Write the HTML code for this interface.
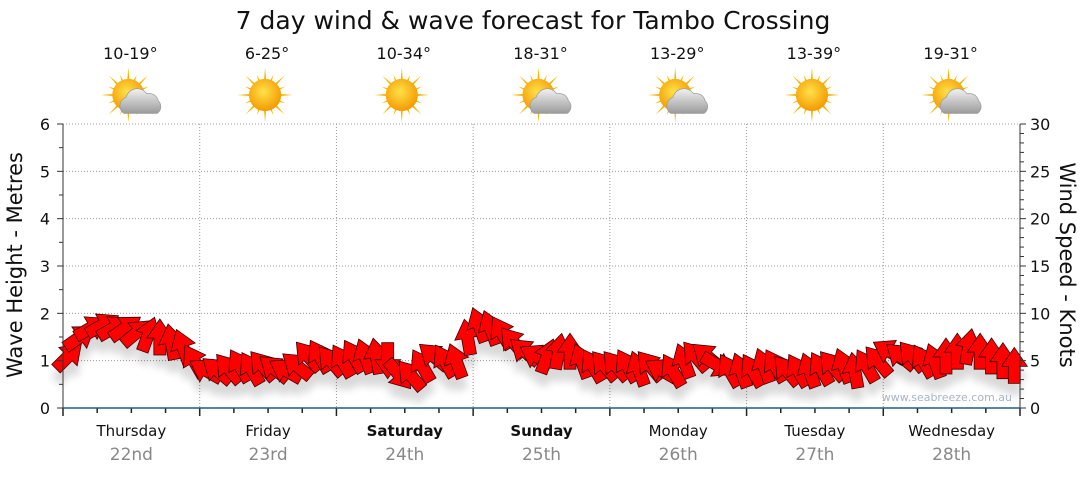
<!DOCTYPE html>
<html><head><meta charset="utf-8"><style>
body{margin:0;background:#fff;font-family:"Liberation Sans",sans-serif}
svg text{font-family:"DejaVu Sans","Liberation Sans",sans-serif}
</style></head><body>
<svg id="c" width="1080" height="475" viewBox="0 0 1080 475">
<defs>
<radialGradient id="sunG" cx="45%" cy="40%" r="60%"><stop offset="0" stop-color="#ffe14a"/><stop offset="1" stop-color="#f59a00"/></radialGradient>
<linearGradient id="cloudG" x1="0" y1="0" x2="0" y2="1"><stop offset="0" stop-color="#f2f2f2"/><stop offset="1" stop-color="#9a9a9a"/></linearGradient>
<filter id="sh" x="-20%" y="-20%" width="140%" height="160%"><feGaussianBlur in="SourceAlpha" stdDeviation="4"/><feOffset dy="12" result="b"/><feComponentTransfer><feFuncA type="linear" slope="0.15"/></feComponentTransfer><feMerge><feMergeNode/><feMergeNode in="SourceGraphic"/></feMerge></filter>
</defs>
<text x="533" y="29" text-anchor="middle" font-size="25" fill="#111">7 day wind &amp; wave forecast for Tambo Crossing</text>
<g id="grid"></g><g id="icons"></g><g id="arrows" filter="url(#sh)"></g><g id="axes"></g>
<text x="1012" y="401" text-anchor="end" font-size="11" fill="#a8b4c4">www.seabreeze.com.au</text>
<text transform="translate(22,265) rotate(-90)" text-anchor="middle" font-size="21" fill="#111">Wave Height - Metres</text>
<text transform="translate(1060,265) rotate(90)" text-anchor="middle" font-size="21" fill="#111">Wind Speed - Knots</text>
</svg>
<script>
const days=["Thursday","Friday","Saturday","Sunday","Monday","Tuesday","Wednesday"];
const dates=["22nd","23rd","24th","25th","26th","27th","28th"];
const temps=["10-19°","6-25°","10-34°","18-31°","13-29°","13-39°","19-31°"];
const cloudy=[1,0,0,1,1,0,1];
const waveTicks=[0,1,2,3,4,5,6];
const windTicks=[0,5,10,15,20,25,30];
const windSpeed=[5.5,7.5,8.5,8.8,8.5,8.5,8,7.8,7.5,7,6.5,5,
4,4,4.2,4.5,4.2,4.5,4.2,4,4.5,5.5,5.5,5,
5,5.5,5.5,5.5,5,3.5,3.5,4.5,5.5,5,5,7.5,
8.8,8.5,8,7,6,5.5,5.5,6,6,5,4.5,4.5,
4.5,4.5,4.2,4.5,4,4,5,5.5,5.5,4.5,4,4,
4,4.5,4.5,4,4,4,4.2,4.5,4.5,4,4.5,5,
6,5.5,5.5,5,5,5.5,6,6.5,6,5.5,5,4.5];
const windDir=[45,55,60,60,60,55,50,20,0,350,340,330,
300,310,320,330,330,320,310,300,310,320,330,320,
330,330,340,350,180,140,320,330,310,330,340,350,
340,340,330,320,310,300,20,10,0,340,330,320,
320,330,340,320,300,330,340,320,310,120,330,340,
330,340,330,320,330,340,330,320,340,350,330,320,
300,310,320,330,340,0,0,10,0,0,0,0];
const NS="http://www.w3.org/2000/svg";
const X0=63,X1=1020,Y0=408,Y1=124;
const dayW=(X1-X0)/7;
const xT=t=>X0+t*(X1-X0)/84;
const yWave=v=>Y0-v*(Y0-Y1)/6;
const yWind=v=>Y0-v*(Y0-Y1)/30;
function mk(tag,attrs,parent){const e=document.createElementNS(NS,tag);for(const k in attrs)e.setAttribute(k,attrs[k]);parent.appendChild(e);return e;}
const grid=document.getElementById('grid'),axes=document.getElementById('axes'),icons=document.getElementById('icons'),arrows=document.getElementById('arrows');
waveTicks.forEach(v=>{
  if(v>0){const l=mk('line',{x1:X0,x2:X1,y1:yWave(v),y2:yWave(v),stroke:'#999','stroke-dasharray':'1,2'},grid);
  }
  const t=mk('text',{x:50,y:yWave(v)+6,'text-anchor':'end','font-size':16,fill:'#111'},axes);t.textContent=v;
  
  mk('line',{x1:X0-6,x2:X0,y1:yWave(v),y2:yWave(v),stroke:'#333'},axes);
  if(v<6)mk('line',{x1:X0-4,x2:X0,y1:yWave(v+0.5),y2:yWave(v+0.5),stroke:'#333'},axes);
});
windTicks.forEach(v=>{
  const t=mk('text',{x:1030,y:yWind(v)+6,'font-size':16,fill:'#111'},axes);t.textContent=v;
  
  mk('line',{x1:X1,x2:X1+6,y1:yWind(v),y2:yWind(v),stroke:'#333'},axes);
});
for(let k=1;k<30;k++)if(k%5)mk('line',{x1:X1,x2:X1+4,y1:yWind(k),y2:yWind(k),stroke:'#333'},axes);
mk('line',{x1:X0,x2:X0,y1:Y1,y2:Y0,stroke:'#333'},axes);
mk('line',{x1:X1,x2:X1,y1:Y1,y2:Y0,stroke:'#333'},axes);
for(let d=1;d<7;d++){const l=mk('line',{x1:X0+d*dayW,x2:X0+d*dayW,y1:Y1,y2:Y0,stroke:'#999','stroke-dasharray':'1,2'},grid);
}
for(let q=0;q<=28;q++){const x=X0+q*dayW/4;mk('line',{x1:x,x2:x,y1:Y0,y2:Y0+(q%4?5:8),stroke:'#222','stroke-width':1.5},axes);}
const xa=mk('line',{x1:X0,x2:X1,y1:Y0,y2:Y0,stroke:'#1f5c8a','stroke-width':1.5},axes);

days.forEach((d,i)=>{
  const cx=X0+(i+0.5)*dayW;
  const t=mk('text',{x:cx,y:436,'text-anchor':'middle','font-size':15,fill:'#111','font-weight':(i==2||i==3)?'bold':'normal'},axes);t.textContent=d;
  
  const t2=mk('text',{x:cx,y:460,'text-anchor':'middle','font-size':17,fill:'#888'},axes);t2.textContent=dates[i];
  
  const t3=mk('text',{x:cx-1,y:59,'text-anchor':'middle','font-size':16,fill:'#111'},icons);t3.textContent=temps[i];
  
  const g=mk('g',{transform:`translate(${cx-3},95) scale(1.15)`},icons);
  
  for(let r=0;r<16;r++){const a=r*Math.PI/8,L=r%2?19:24;mk('polygon',{points:`${Math.cos(a-0.12)*10},${Math.sin(a-0.12)*10} ${Math.cos(a)*L},${Math.sin(a)*L} ${Math.cos(a+0.12)*10},${Math.sin(a+0.12)*10}`,fill:'#f7b500'},g);}
  mk('circle',{cx:0,cy:0,r:14,fill:'url(#sunG)'},g);
  if(cloudy[i]){const c=mk('g',{transform:'translate(10,6)'},g);
    mk('path',{d:'M-14,10 a8,8 0 0 1 2,-14 a10,10 0 0 1 18,-3 a8,8 0 0 1 10,6 a7,7 0 0 1 -1,11 z',fill:'url(#cloudG)',stroke:'#999','stroke-width':0.6},c);}
});
windSpeed.forEach((s,i)=>{
  const x=xT(i+0.5),y=yWind(s);
  const p=mk('polygon',{points:'-6,18 -6,1 -13,1 0,-18 13,1 6,1 6,18',fill:'#ff0000',stroke:'#3a0000','stroke-width':0.8,transform:`translate(${x},${y}) rotate(${windDir[i]})`},arrows);
  
  
});
</script>
</body></html>
